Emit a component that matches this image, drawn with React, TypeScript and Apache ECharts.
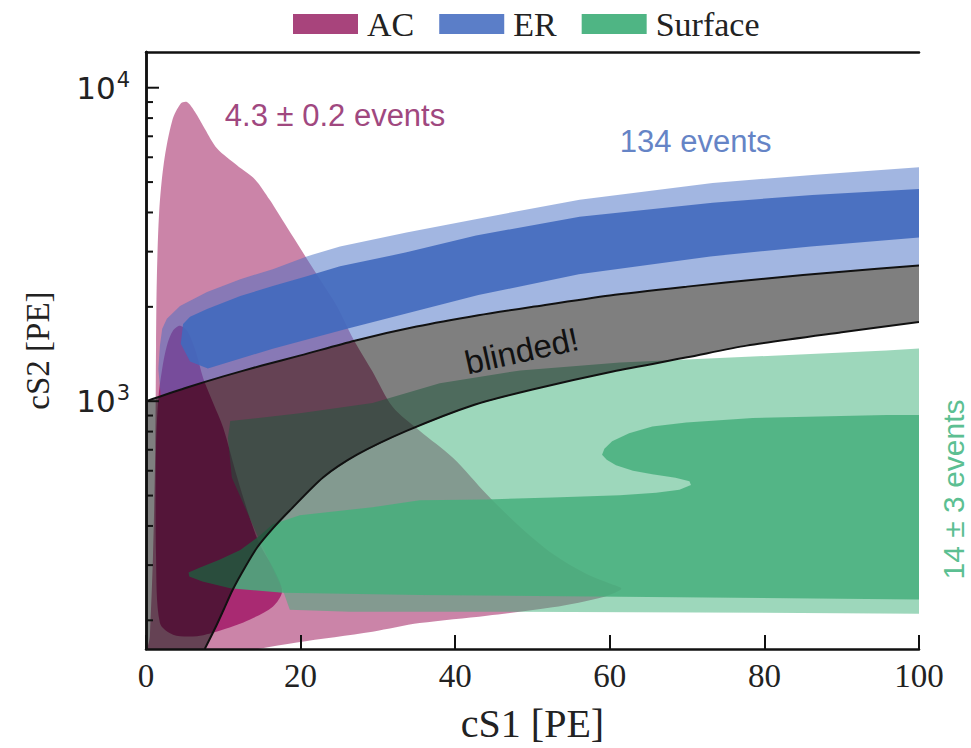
import React, { useEffect, useRef } from "react";
import * as echarts from "echarts";

// ---------- data (cS1 [PE], cS2 [PE]) ----------
const Y_MIN = 162;
const Y_MAX = 13000;
const X_MIN = 0;
const X_MAX = 100;

const legendNames = ["AC", "ER", "Surface"];
const legendColors = ["#a8447c", "#5b7ec8", "#4fb584"];

const acOuter: [number, number][] = [
  [0.3, 150], [0.5, 178], [0.9, 319], [1.2, 710], [1.3, 1505], [1.4, 2450], [1.7, 4000],
  [2.3, 5730], [3.4, 7860], [4.5, 8900], [5.3, 9000], [6.3, 8400], [7.6, 7400], [9.2, 6400],
  [11.8, 5650], [14.1, 5100], [16.0, 4390], [18.2, 3600], [20.3, 2980], [22.5, 2450],
  [24.7, 2010], [26.8, 1583], [29.3, 1244], [31.9, 960], [35.4, 805], [39.7, 660],
  [44.1, 504], [48.4, 397], [52.6, 326], [57.0, 281], [60.0, 262], [61.5, 252], [59.3, 238],
  [52.6, 220], [44.1, 207], [35.4, 196], [29.3, 184], [19.5, 170], [13.4, 160], [9.0, 150],
];

const acInner: [number, number][] = [
  [1.6, 1022], [2.1, 1272], [2.7, 1504], [3.5, 1680], [4.4, 1740], [5.4, 1665], [6.4, 1450],
  [7.4, 1183], [8.7, 985], [10.0, 821], [11.8, 571], [13.4, 426], [14.7, 350], [16.7, 286],
  [17.6, 247], [16.4, 221], [13.4, 201], [10.0, 187], [6.6, 178], [3.5, 180], [1.8, 196],
  [1.3, 319], [1.3, 710],
];

const surfaceOuter: [number, number][] = [
  [100, 1472], [95.8, 1450], [78.5, 1388], [61.3, 1329], [48.4, 1254], [38.0, 1140],
  [29.3, 986], [19.9, 916], [10.9, 864], [10.6, 764], [11.1, 571], [12.8, 459], [14.5, 369],
  [16.3, 296], [17.7, 250], [18.6, 216], [26.4, 213], [45.8, 213], [71.6, 212], [100, 210],
];

const surfaceInner: [number, number][] = [
  [100, 903], [95.8, 903], [78.5, 884], [69.9, 855], [65.5, 830], [62.5, 790], [60.3, 745],
  [59.3, 705], [59.0, 675], [59.6, 650], [60.8, 625], [63.0, 600], [65.5, 585], [68.5, 570],
  [70.3, 555], [70.5, 540], [69.0, 522], [66.0, 510], [61.3, 501], [52.6, 493],
  [44.1, 486], [35.4, 483], [29.3, 459], [19.9, 433], [16.4, 405], [14.7, 372], [12.2, 335],
  [9.5, 312], [7.0, 295], [5.5, 284], [5.6, 276], [7.3, 266], [10.9, 253], [17.7, 245],
  [35.4, 241], [61.3, 238], [100, 233],
];

const erOuterTop: [number, number][] = [
  [1.8, 1504], [2.1, 1702], [2.7, 1831], [4.4, 2013], [7.9, 2229], [12.2, 2451], [16.4, 2636],
  [20.8, 2897], [25.1, 3116], [33.7, 3451], [42.3, 3795], [56.1, 4390], [73.3, 4969],
  [86.2, 5267], [100, 5580],
];
const erOuterLeft: [number, number][] = [[1.9, 1040], [1.6, 1270]];

const erInner: [number, number][] = [
  [5.7, 1858], [7.9, 1970], [12.2, 2165], [16.4, 2329], [20.8, 2504], [25.1, 2694],
  [33.7, 2984], [42.7, 3378], [56.1, 3879], [73.3, 4295], [86.2, 4551], [100, 4750],
  [100, 3328], [86.0, 3116], [73.0, 2897], [56.0, 2540], [43.0, 2180], [26.0, 1702],
  [16.4, 1471], [8.0, 1272], [5.7, 1339], [4.5, 1526], [4.8, 1764],
];

const blindUpper: [number, number][] = [
  [0, 1000], [5, 1100], [10, 1200], [15, 1300], [20, 1400], [27, 1560], [35, 1730],
  [43, 1880], [50, 2000], [60, 2175], [70, 2320], [80, 2460], [90, 2590], [100, 2710],
];
const blindLower: [number, number][] = [
  [7.6, 162], [9, 190], [10, 215], [11.2, 250], [12.8, 295], [14.4, 342], [16.5, 395],
  [18.6, 448], [22.9, 571], [27.3, 675], [33.7, 804], [42.3, 971], [50, 1090], [60.4, 1244],
  [70, 1380], [77.7, 1504], [90, 1660], [100, 1790],
];

const yMajorTicks = [1000, 10000];
const yMinorTicks = [200, 300, 400, 500, 600, 700, 800, 900, 2000, 3000, 4000, 5000, 6000, 7000, 8000, 9000];

const annotationTexts = ["4.3 ± 0.2 events", "134 events", "blinded!", "14 ± 3 events"];
const annotationPos: [number, number][] = [[10.2, 8150], [61.3, 6745], [48.6, 1449], [104.5, 523]];
const annotationColors = ["#a0487f", "#6584c6", "#111111", "#5cbf92"];
const annotationAngles = [0, 0, 12.5, 90];
const annotationSizes = [31, 31, 33, 30];
const annotationAlign = ["left", "left", "center", "center"];

// ---------- helpers ----------
const SERIF = "'Liberation Serif', 'Times New Roman', serif";
const SANS = "'Liberation Sans', Arial, sans-serif";

function polygonSeries(name: string, pts: [number, number][], fill: string, smooth: number, legendColor?: string) {
  return {
    type: "custom",
    name,
    coordinateSystem: "cartesian2d",
    clip: true,
    silent: true,
    itemStyle: legendColor ? { color: legendColor } : undefined,
    data: pts,
    renderItem: (params: any, api: any) => {
      if (params.dataIndex !== 0) return null;
      return {
        type: "polygon",
        shape: { points: pts.map((p) => api.coord(p)), smooth },
        style: { fill, stroke: "none" },
      };
    },
  };
}

function lineSeries(name: string, pts: [number, number][]) {
  return {
    type: "custom",
    name,
    coordinateSystem: "cartesian2d",
    clip: true,
    silent: true,
    data: pts,
    renderItem: (params: any, api: any) => {
      if (params.dataIndex !== 0) return null;
      return {
        type: "polyline",
        shape: { points: pts.map((p) => api.coord(p)), smooth: 0.25 },
        style: { fill: "none", stroke: "#111111", lineWidth: 2 },
      };
    },
  };
}

function tickSeries(name: string, values: number[], len: number) {
  return {
    type: "custom",
    name,
    coordinateSystem: "cartesian2d",
    clip: false,
    silent: true,
    z: 10,
    data: values.map((v) => [X_MIN, v]),
    renderItem: (params: any, api: any) => {
      const p = api.coord([X_MIN, api.value(1)]);
      return {
        type: "line",
        shape: { x1: p[0], y1: p[1], x2: p[0] + len, y2: p[1] },
        style: { stroke: "#111111", lineWidth: 2 },
      };
    },
  };
}

export default function App() {
  const ref = useRef<HTMLDivElement>(null);

  useEffect(() => {
    if (!ref.current) return;
    const chart = echarts.init(ref.current, undefined, { renderer: "svg" });

    const erOuter: [number, number][] = [
      ...erOuterTop,
      ...blindUpper.filter((p) => p[0] >= 5).slice().reverse(),
      ...erOuterLeft,
    ];
    const blind: [number, number][] = [
      ...blindUpper,
      ...blindLower.slice().reverse(),
      [X_MIN, Y_MIN],
    ];

    const axisLineStyle = { color: "#111111", width: 2.5 };

    const option: any = {
      animation: false,
      backgroundColor: "#ffffff",
      legend: {
        data: legendNames.map((n, i) => ({ name: n, icon: "rect", itemStyle: { color: legendColors[i] } })),
        selectedMode: false,
        left: 288,
        top: 2,
        itemWidth: 65,
        itemHeight: 20,
        itemGap: 25,
        textStyle: { fontFamily: SERIF, fontSize: 34, color: "#222222", padding: [0, 0, 0, 4] },
      },
      grid: { left: 146, right: 52, top: 52, bottom: 95, show: false },
      xAxis: [
        {
          type: "value",
          min: X_MIN,
          max: X_MAX,
          interval: 20,
          z: 10,
          name: "cS1 [PE]",
          nameLocation: "middle",
          nameGap: 54,
          nameTextStyle: { fontFamily: SERIF, fontSize: 40, color: "#222222" },
          axisLine: { show: true, lineStyle: axisLineStyle },
          axisTick: { show: true, inside: true, length: 14, lineStyle: { color: "#111111", width: 2 } },
          axisLabel: { fontFamily: SERIF, fontSize: 33, color: "#222222", margin: 10 },
          splitLine: { show: false },
        },
        {
          type: "value",
          position: "top",
          min: X_MIN,
          max: X_MAX,
          z: 10,
          axisLine: { show: true, lineStyle: axisLineStyle },
          axisTick: { show: false },
          axisLabel: { show: false },
          splitLine: { show: false },
        },
      ],
      yAxis: [
        {
          type: "log",
          logBase: 10,
          min: Y_MIN,
          max: Y_MAX,
          z: 10,
          name: "cS2 [PE]",
          nameLocation: "middle",
          nameGap: 92,
          nameRotate: 90,
          nameTextStyle: { fontFamily: SERIF, fontSize: 33, color: "#222222" },
          axisLine: { show: true, lineStyle: axisLineStyle },
          axisTick: { show: false },
          splitLine: { show: false },
          axisLabel: {
            margin: 16,
            formatter: (v: number) => {
              const e = Math.log10(v);
              const r = Math.round(e);
              if (Math.abs(e - r) > 1e-4) return "";
              return `{b|10}{s|${r}}`;
            },
            rich: {
              b: { fontFamily: "'DejaVu Sans', sans-serif", fontSize: 31, color: "#222222" },
              s: { fontFamily: "'DejaVu Sans', sans-serif", fontSize: 21, color: "#222222", verticalAlign: "top", padding: [0, 0, 16, 1] },
            },
          },
        },
        {
          type: "value",
          position: "right",
          min: 0,
          max: 1,
          z: 10,
          axisLine: { show: true, lineStyle: axisLineStyle },
          axisTick: { show: false },
          axisLabel: { show: false },
          splitLine: { show: false },
        },
      ],
      series: [
        polygonSeries("AC", acOuter, "rgba(168,50,110,0.6)", 0.3, legendColors[0]),
        polygonSeries("AC", acInner, "rgba(160,20,100,0.8)", 0.3, legendColors[0]),
        polygonSeries("Surface", surfaceOuter, "rgba(60,175,120,0.5)", 0, legendColors[2]),
        polygonSeries("Surface", surfaceInner, "rgba(70,175,125,0.85)", 0, legendColors[2]),
        polygonSeries("ER", erOuter, "rgba(70,110,195,0.5)", 0, legendColors[1]),
        polygonSeries("ER", erInner, "rgba(65,105,190,0.9)", 0, legendColors[1]),
        polygonSeries("blinded", blind, "rgba(0,0,0,0.5)", 0),
        lineSeries("blindUpperLine", blindUpper),
        lineSeries("blindLowerLine", blindLower),
        tickSeries("majorTicks", yMajorTicks, 13),
        tickSeries("minorTicks", yMinorTicks, 7),
        {
          type: "custom",
          name: "annotations",
          coordinateSystem: "cartesian2d",
          clip: false,
          silent: true,
          z: 11,
          data: annotationPos,
          renderItem: (params: any, api: any) => {
            const i = params.dataIndex;
            const p = api.coord([api.value(0), api.value(1)]);
            return {
              type: "text",
              x: p[0],
              y: p[1],
              rotation: (annotationAngles[i] * Math.PI) / 180,
              style: {
                text: annotationTexts[i],
                fill: annotationColors[i],
                fontFamily: SANS,
                fontSize: annotationSizes[i],
                align: annotationAlign[i],
                verticalAlign: "middle",
              },
            };
          },
        },
      ],
    };

    chart.setOption(option);
    return () => chart.dispose();
  }, []);

  return (
    <div
      ref={ref}
      style={{ position: "absolute", left: 0, top: 0, width: "971px", height: "748px", background: "#fff" }}
    />
  );
}
